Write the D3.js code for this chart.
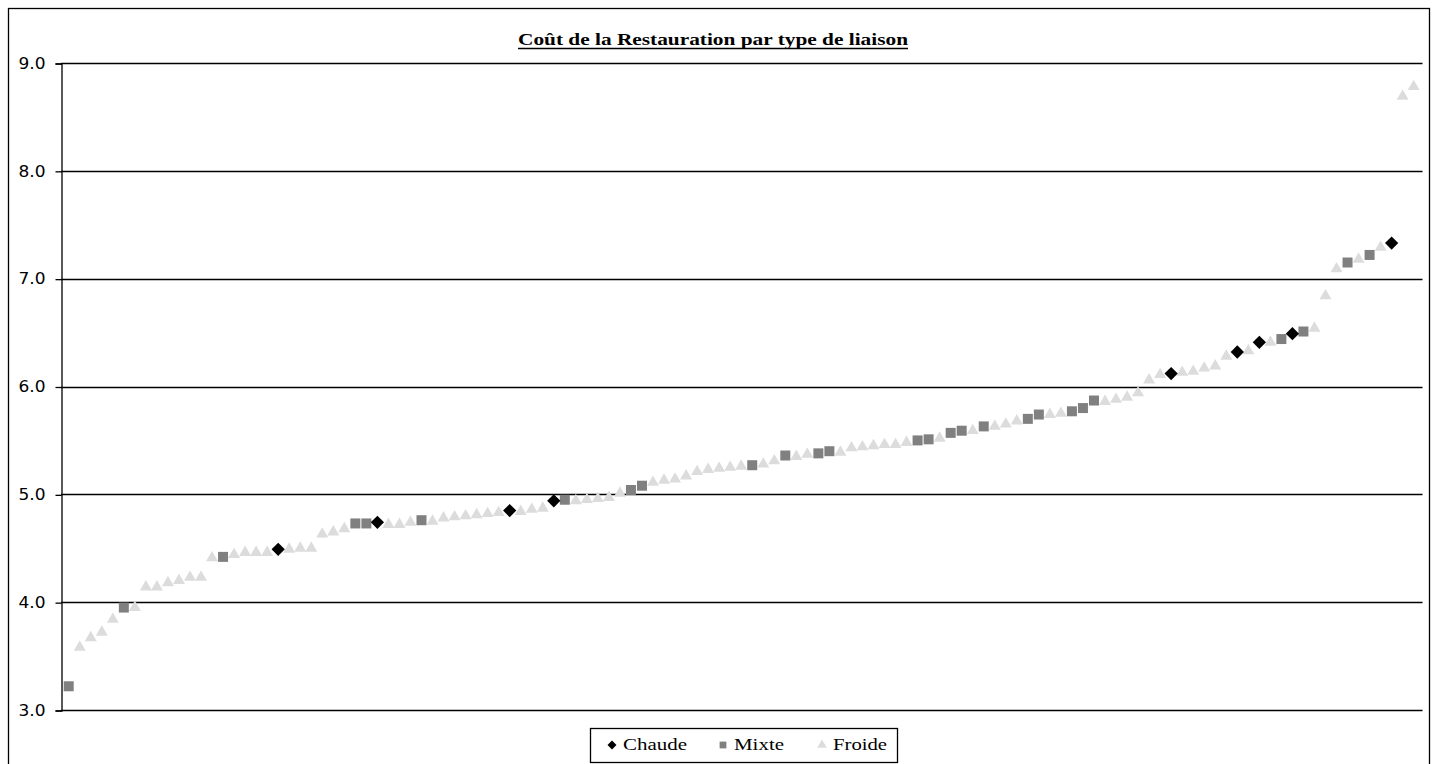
<!DOCTYPE html>
<html><head><meta charset="utf-8">
<script src="https://cdn.jsdelivr.net/npm/d3@7"></script>
<style>body{margin:0;background:#fff}svg{display:block}</style>
</head><body>
<svg id="c" width="1437" height="764"></svg>
<script>
// rank (position in sorted order) and cost value for each series
const chaude = [[20,4.49],[29,4.74],[41,4.85],[45,4.94],[101,6.12],[107,6.32],[109,6.41],[112,6.49],[121,7.33]];
const mixte = [[1,3.22],[6,3.95],[15,4.42],[27,4.73],[28,4.73],[33,4.76],[46,4.95],[52,5.04],[53,5.08],[63,5.27],[66,5.36],[69,5.38],[70,5.40],[78,5.50],[79,5.51],[81,5.57],[82,5.59],[84,5.63],[88,5.70],[89,5.74],[92,5.77],[93,5.80],[94,5.87],[111,6.44],[113,6.51],[117,7.15],[119,7.22]];
const froide = [[2,3.59],[3,3.68],[4,3.73],[5,3.85],[7,3.96],[8,4.15],[9,4.15],[10,4.19],[11,4.21],[12,4.24],[13,4.24],[14,4.42],[16,4.45],[17,4.47],[18,4.47],[19,4.47],[21,4.50],[22,4.51],[23,4.51],[24,4.64],[25,4.66],[26,4.69],[30,4.73],[31,4.73],[32,4.75],[34,4.76],[35,4.79],[36,4.80],[37,4.81],[38,4.82],[39,4.83],[40,4.84],[42,4.85],[43,4.87],[44,4.88],[47,4.95],[48,4.96],[49,4.97],[50,4.98],[51,5.02],[54,5.12],[55,5.14],[56,5.15],[57,5.18],[58,5.22],[59,5.24],[60,5.25],[61,5.26],[62,5.27],[64,5.29],[65,5.32],[67,5.36],[68,5.38],[71,5.40],[72,5.44],[73,5.45],[74,5.46],[75,5.47],[76,5.47],[77,5.49],[80,5.53],[83,5.60],[85,5.64],[86,5.66],[87,5.69],[90,5.75],[91,5.76],[95,5.87],[96,5.89],[97,5.91],[98,5.95],[99,6.07],[100,6.12],[102,6.14],[103,6.15],[104,6.18],[105,6.20],[106,6.29],[108,6.34],[110,6.42],[114,6.55],[115,6.85],[116,7.10],[118,7.19],[120,7.30],[122,8.70],[123,8.79]];
const yTicks = [3,4,5,6,7,8,9];
const seriesNames = ["Chaude","Mixte","Froide"];
const title = "Coût de la Restauration par type de liaison";
const N = 123;

const svg = d3.select("#c");
const L = 61, R = 1422.5, T = 63, B = 710;
const x = d3.scaleLinear().domain([0.3, N + 0.8]).range([L, R]);
const y = d3.scaleLinear().domain([3, 9]).range([B, T]);

// outer border
svg.append("rect").attr("x",8.5).attr("y",8.5).attr("width",1421).attr("height",770)
  .attr("fill","#fff").attr("stroke","#000").attr("stroke-width",1.3);

// gridlines
svg.append("g").selectAll("line").data(yTicks).join("line")
  .attr("x1",L).attr("x2",R).attr("y1",d=>Math.round(y(d))+0.5).attr("y2",d=>Math.round(y(d))+0.5)
  .attr("stroke","#000").attr("stroke-width",1.3);

// y axis
const ax = svg.append("g").attr("transform",`translate(${L+0.5},0.5)`)
  .call(d3.axisLeft(y).tickValues(yTicks).tickFormat(d3.format(".1f")).tickSize(6).tickPadding(10));
ax.select(".domain").attr("stroke","#000").attr("stroke-width",1.3);
ax.selectAll(".tick line").attr("stroke","#000").attr("stroke-width",1.3);
ax.selectAll("text").attr("font-family","'DejaVu Sans', sans-serif").attr("font-size",15).attr("fill","#000")
  .attr("textLength",27).attr("lengthAdjust","spacingAndGlyphs");

const tri = d3.symbol().type(d3.symbolTriangle).size(62);
const sq = d3.symbol().type(d3.symbolSquare).size(100);
const dia = d3.symbol().type(d3.symbolSquare).size(88);

svg.append("g").selectAll("path").data(froide).join("path")
  .attr("d",tri).attr("transform",d=>`translate(${x(d[0])},${y(d[1])+1})`).attr("fill","#dcdcdc");
svg.append("g").selectAll("path").data(mixte).join("path")
  .attr("d",sq).attr("transform",d=>`translate(${x(d[0])},${y(d[1])})`).attr("fill","#808080");
svg.append("g").selectAll("path").data(chaude).join("path")
  .attr("d",dia).attr("transform",d=>`translate(${x(d[0])},${y(d[1])}) rotate(45)`).attr("fill","#000");

// title
svg.append("text").attr("x",713).attr("y",45).attr("text-anchor","middle")
  .attr("font-family","'Liberation Serif', serif").attr("font-weight","bold").attr("font-size",17)
  .attr("textLength",390).attr("lengthAdjust","spacingAndGlyphs").text(title);
svg.append("line").attr("x1",518).attr("x2",908).attr("y1",48.5).attr("y2",48.5).attr("stroke","#000").attr("stroke-width",1.3);

// legend
const lg = svg.append("g");
lg.append("rect").attr("x",590.5).attr("y",728.5).attr("width",307).attr("height",34).attr("fill","#fff").attr("stroke","#000").attr("stroke-width",1.3);
const items = [
  {name:seriesNames[0], sym:d3.symbol().type(d3.symbolSquare).size(40), rot:45, fill:"#000", mx:612, tx:623, w:64},
  {name:seriesNames[1], sym:d3.symbol().type(d3.symbolSquare).size(46), rot:0, fill:"#808080", mx:723, tx:734, w:50},
  {name:seriesNames[2], sym:d3.symbol().type(d3.symbolTriangle).size(40), rot:0, fill:"#dcdcdc", mx:822, tx:833, w:54}
];
items.forEach(it=>{
  lg.append("path").attr("d",it.sym).attr("transform",`translate(${it.mx},745) rotate(${it.rot})`).attr("fill",it.fill);
  lg.append("text").attr("x",it.tx).attr("y",750).attr("font-family","'Liberation Serif', serif")
    .attr("font-size",17).attr("fill","#000").attr("textLength",it.w).attr("lengthAdjust","spacingAndGlyphs").text(it.name);
});
</script>
</body></html>
